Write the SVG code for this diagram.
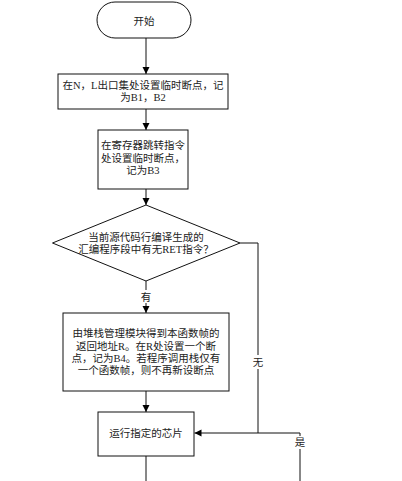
<svg xmlns="http://www.w3.org/2000/svg" width="402" height="481" viewBox="0 0 402 481">
<style>
.n{fill:#fff;stroke:#111;stroke-width:1}
.t{font-family:"Liberation Serif","Noto Sans CJK SC",serif;font-size:10.5px;fill:#222;text-anchor:middle}
.c{fill:none;stroke:#111;stroke-width:1}
.lb{fill:#fff}
</style>
<defs>
<marker id="ah" markerWidth="8" markerHeight="8" refX="7" refY="4" orient="auto" markerUnits="userSpaceOnUse">
<path d="M0,0.5 L7,4 L0,7.5 Z" fill="#000"/>
</marker>
</defs>
<rect width="402" height="481" fill="#fff"/>
<g id="connectors">
<path class="c" d="M146,38 V74" marker-end="url(#ah)"/>
<path class="c" d="M146,109 V130" marker-end="url(#ah)"/>
<path class="c" d="M146,189 V205" marker-end="url(#ah)"/>
<path class="c" d="M146,281 V313" marker-end="url(#ah)"/>
<path class="c" d="M146,391 V412" marker-end="url(#ah)"/>
<path class="c" d="M146,456 V481"/>
<path class="c" d="M240,243 H258 V433 H194.5" marker-end="url(#ah)"/>
<path class="c" d="M300,481 V433 H258"/>
<rect class="lb" x="140" y="290" width="12" height="13"/>
<text class="t" x="146" y="301">有</text>
<rect class="lb" x="252" y="355" width="12" height="14"/>
<text class="t" x="258" y="366">无</text>
<rect class="lb" x="294" y="436" width="12" height="13"/>
<text class="t" x="300" y="446">是</text>
</g>
<g id="start">
<rect class="n" x="97" y="2" width="94" height="36" rx="18"/>
<text class="t" x="144" y="25">开始</text>
</g>
<g id="box1">
<rect class="n" x="58" y="74" width="170" height="35"/>
<text class="t" x="143" y="89">在N，L出口集处设置临时断点，记</text>
<text class="t" x="143" y="101">为B1，B2</text>
</g>
<g id="box2">
<rect class="n" x="98" y="130" width="90" height="59"/>
<text class="t" x="143" y="149">在寄存器跳转指令</text>
<text class="t" x="143" y="161.5">处设置临时断点，</text>
<text class="t" x="143" y="174">记为B3</text>
</g>
<g id="decision">
<polygon class="n" points="146,205 240,243 146,281 52.5,243"/>
<text class="t" x="146" y="241">当前源代码行编译生成的</text>
<text class="t" x="146" y="253">汇编程序段中有无RET指令？</text>
</g>
<g id="box3">
<rect class="n" x="63" y="313" width="166" height="78"/>
<text class="t" x="146" y="337">由堆栈管理模块得到本函数帧的</text>
<text class="t" x="146" y="349.5">返回地址R。在R处设置一个断</text>
<text class="t" x="146" y="362">点，记为B4。若程序调用栈仅有</text>
<text class="t" x="146" y="374">一个函数帧，则不再新设断点</text>
</g>
<g id="box4">
<rect class="n" x="98" y="412" width="96" height="44"/>
<text class="t" x="146" y="437">运行指定的芯片</text>
</g>
</svg>
